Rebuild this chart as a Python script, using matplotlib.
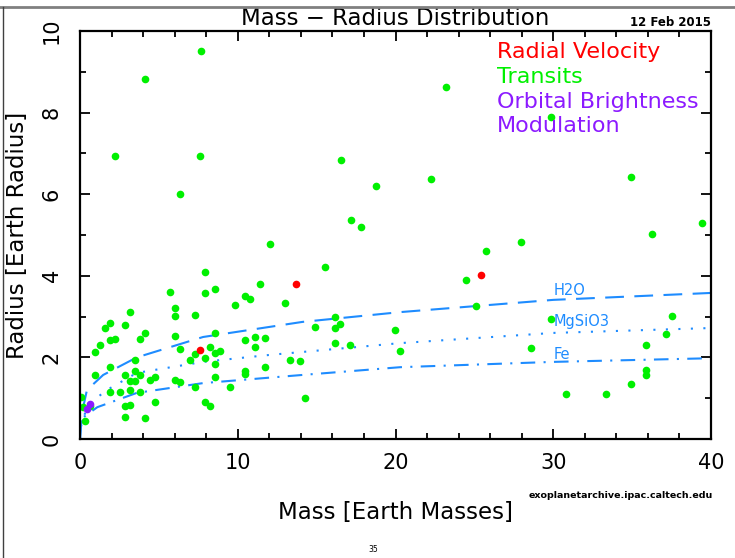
import numpy as np
import matplotlib
matplotlib.use("Agg")
import matplotlib.pyplot as plt
from matplotlib.lines import Line2D
from matplotlib.ticker import MultipleLocator

# Transit planets (mass, radius in Earth units)
transit_mass = [7.67, 4.12, 2.22, 7.63, 6.36, 16.52, 18.74, 17.15, 17.79,
                23.19, 29.85, 22.24, 34.94, 39.4, 36.23, 27.95, 25.73, 24.46,
                25.1, 29.85, 37.5, 37.15, 28.58, 35.89, 35.89, 35.89, 34.94,
                30.82, 33.35, 20.28, 12.06, 15.55, 7.94, 5.70, 7.94, 8.58,
                11.43, 10.48, 10.79, 9.84, 13.01, 6.04, 6.04, 7.31, 3.19,
                2.87, 1.58, 1.90, 1.90, 2.22, 1.27, 0.95, 3.80, 4.12, 6.04,
                6.36, 8.58, 8.26, 8.58, 8.89, 7.31, 6.99, 7.94, 8.58, 8.58,
                7.31, 9.53, 10.48, 11.11, 11.74, 11.11, 10.48, 10.48, 11.74,
                13.33, 13.96, 14.28, 14.91, 16.18, 16.18, 16.50, 16.18, 17.13,
                19.98, 6.04, 6.36, 7.94, 8.26, 4.75, 4.44, 4.75, 4.12, 2.87,
                2.87, 3.19, 3.19, 2.53, 1.90, 1.90, 0.95, 2.87, 3.19, 3.51,
                3.51, 3.82, 3.51, 3.80, 0.04, 0.30, 0.21, 0.63]
transit_radius = [9.51, 8.82, 6.94, 6.94, 6.01, 6.84, 6.20, 5.37, 5.19,
                  8.62, 7.90, 6.37, 6.42, 5.29, 5.02, 4.82, 4.62, 3.90,
                  3.25, 2.94, 3.02, 2.57, 2.24, 2.31, 1.70, 1.56, 1.36,
                  1.10, 1.10, 2.16, 4.77, 4.22, 4.09, 3.61, 3.59, 3.68,
                  3.81, 3.51, 3.42, 3.29, 3.34, 3.22, 3.02, 3.04, 3.12,
                  2.79, 2.73, 2.84, 2.43, 2.45, 2.30, 2.13, 2.46, 2.61, 2.53,
                  2.21, 2.60, 2.25, 2.12, 2.16, 2.09, 1.94, 1.99, 1.85, 1.51,
                  1.28, 1.27, 2.43, 2.49, 2.47, 2.25, 1.67, 1.59, 1.76,
                  1.94, 1.90, 1.00, 2.74, 3.00, 2.73, 2.83, 2.35, 2.30,
                  2.68, 1.44, 1.39, 0.91, 0.81, 1.53, 1.45, 0.91, 0.51, 0.55,
                  0.82, 0.83, 1.21, 1.14, 1.14, 1.76, 1.57, 1.57, 1.43, 1.43,
                  1.67, 1.57, 1.94, 1.14, 1.03, 0.44, 0.79, 0.81]

# Radial velocity planets
rv_mass = [7.63, 13.67, 25.41]
rv_radius = [2.19, 3.79, 4.01]

# Orbital brightness modulation planets
obm_mass = [0.42, 0.65]
obm_radius = [0.73, 0.85]

# Composition curves
h2o_mass = [0, 0.1, 0.44, 1.47, 3.6, 7.8, 14.1, 20.3, 30.0, 40.0]
h2o_radius = [0, 0.6, 1.2, 1.57, 2.0, 2.5, 2.87, 3.11, 3.41, 3.58]
mgsio3_mass = [0, 0.1, 0.63, 1.7, 3.6, 7.8, 12.0, 20.3, 30.0, 40.0]
mgsio3_radius = [0, 0.45, 0.88, 1.2, 1.62, 1.89, 2.06, 2.35, 2.6, 2.72]
fe_mass = [0, 0.05, 0.2, 1.1, 3.6, 7.8, 14.1, 20.3, 30.0, 40.0]
fe_radius = [0, 0.3, 0.53, 0.78, 1.13, 1.37, 1.57, 1.76, 1.89, 1.98]

curve_blue = '#1e8cff'
green = '#00f000'
red = '#ff0000'
purple = '#8c1aff'

plt.rcParams['font.family'] = ['DejaVu Sans']

fig = plt.figure(figsize=(7.35, 5.58), dpi=100)
ax = fig.add_axes([80 / 735, 1 - 439 / 558, 631 / 735, 408 / 558])

# Composition curves
ax.plot(h2o_mass, h2o_radius, color=curve_blue, lw=1.5, dashes=(9, 5))
ax.plot(mgsio3_mass, mgsio3_radius, color=curve_blue, lw=1.5, dashes=(1, 5))
ax.plot(fe_mass, fe_radius, color=curve_blue, lw=1.5, dashes=(7, 4, 1, 4))
ax.text(30.0, 3.63, 'H2O', color=curve_blue, fontsize=10.5, va='center')
ax.text(30.0, 2.87, 'MgSiO3', color=curve_blue, fontsize=10.5, va='center')
ax.text(30.0, 2.06, 'Fe', color=curve_blue, fontsize=10.5, va='center')

# Planets
ax.plot(transit_mass, transit_radius, 'o', color=green, ms=5.5, mew=0)
ax.plot(rv_mass, rv_radius, 'o', color=red, ms=5.5, mew=0)
ax.plot(obm_mass, obm_radius, 'o', color=purple, ms=5.5, mew=0)

ax.set_xlim(0, 40)
ax.set_ylim(0, 10)
ax.xaxis.set_major_locator(MultipleLocator(10))
ax.xaxis.set_minor_locator(MultipleLocator(2))
ax.yaxis.set_major_locator(MultipleLocator(2))
ax.yaxis.set_minor_locator(MultipleLocator(1))
ax.tick_params(which='both', direction='in', top=True, right=True, width=1.3)
ax.tick_params(which='major', length=7, labelsize=15)
ax.tick_params(which='minor', length=4.5)
ax.tick_params(axis='x', pad=10)
ax.tick_params(axis='y', pad=13, labelrotation=90)
for lab in ax.get_yticklabels():
    lab.set_va('center')
for sp in ax.spines.values():
    sp.set_linewidth(1.6)

ax.set_title('Mass \u2212 Radius Distribution', fontsize=16.5, pad=4)
ax.set_xlabel('Mass [Earth Masses]', fontsize=16.5)
ax.xaxis.set_label_coords(0.5, -73 / 408)
ax.xaxis.label.set_va('center')
ax.set_ylabel('Radius [Earth Radius]', fontsize=16.5)
ax.yaxis.set_label_coords(-62 / 631, 0.5)
ax.yaxis.label.set_va('center')

# Legend as coloured text
legend_labels = ['Radial Velocity', 'Transits', 'Orbital Brightness', 'Modulation']
legend_colors = [red, green, purple, purple]
for i, (lab, col) in enumerate(zip(legend_labels, legend_colors)):
    ax.text(0.661, 0.949 - i * 0.061, lab, color=col, fontsize=16,
            transform=ax.transAxes, va='center')

fig.text(711 / 735, 1 - 22 / 558, '12 Feb 2015', ha='right', va='center',
         fontsize=8.5, fontweight='bold')
fig.text(621 / 735, 1 - 495 / 558, 'exoplanetarchive.ipac.caltech.edu',
         ha='center', va='center', fontsize=6.8, fontweight='bold')
fig.text(373 / 735, 1 - 549 / 558, '35', ha='center', va='center', fontsize=5.5)

# slide border
fig.add_artist(Line2D([0, 1], [1 - 7 / 558, 1 - 7 / 558], color='#808080',
                      lw=2, transform=fig.transFigure))
fig.add_artist(Line2D([3 / 735, 3 / 735], [0, 1 - 7 / 558], color='#404040',
                      lw=1, transform=fig.transFigure))

fig.savefig('out.png', dpi=100)
